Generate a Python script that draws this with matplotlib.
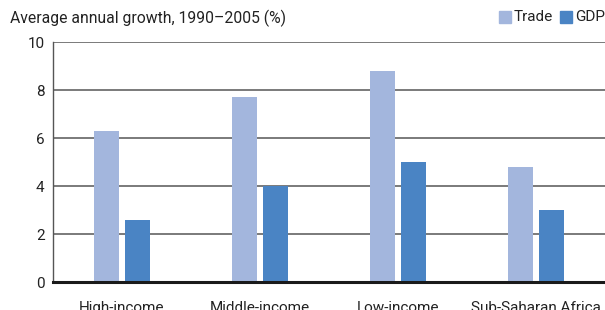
import matplotlib
matplotlib.use("Agg")
from matplotlib import pyplot as plt
from matplotlib.patches import Rectangle
import numpy as np

plt.rcParams['font.family'] = ['Roboto', 'DejaVu Sans']

categories = ["High-income", "Middle-income", "Low-income", "Sub-Saharan Africa"]
trade = [6.3, 7.7, 8.8, 4.8]
gdp = [2.6, 4.0, 5.0, 3.0]
yticks = [0, 2, 4, 6, 8, 10]

trade_color = "#a3b6dd"
gdp_color = "#4a84c4"

fig = plt.figure(figsize=(6.05, 3.1), dpi=100)
ax = fig.add_axes([53 / 605, (310 - 282) / 310, 552 / 605, 240 / 310])

x = np.arange(len(categories))
w = 0.182
off = 0.113
ax.bar(x - off, trade, width=w, color=trade_color, zorder=3)
ax.bar(x + off, gdp, width=w, color=gdp_color, zorder=3)

ax.set_xlim(-0.5, len(categories) - 0.5)
ax.set_ylim(0, 10)
ax.set_yticks(yticks)
ax.set_yticklabels([str(v) for v in yticks], fontsize=11, color="#222222")
ax.set_xticks(x)
ax.set_xticklabels(categories, fontsize=11, color="#222222")
ax.tick_params(axis='y', length=0, pad=6)
ax.tick_params(axis='x', length=0, pad=14)

for v in yticks[1:]:
    ax.axhline(v, color="#7a7a7a", lw=1.4, zorder=1)

for s in ["top", "right"]:
    ax.spines[s].set_visible(False)
ax.spines["left"].set_color("#555555")
ax.spines["left"].set_linewidth(1.0)
ax.spines["bottom"].set_color("#1a1a1a")
ax.spines["bottom"].set_linewidth(2.2)
ax.spines["bottom"].set_zorder(4)

fig.text(10 / 605, 1 - 18 / 310, "Average annual growth, 1990\u20132005 (%)",
         fontsize=11.3, color="#222222", va="center", ha="left")

# legend
for px, label, c in [(499, "Trade", trade_color), (560, "GDP", gdp_color)]:
    fig.patches.append(Rectangle((px / 605, 1 - 23 / 310), 12 / 605, 12 / 310,
                                 transform=fig.transFigure, color=c))
    fig.text((px + 15) / 605, 1 - 17 / 310, label, fontsize=11,
             color="#222222", va="center", ha="left")

fig.savefig("out.png", dpi=100)
